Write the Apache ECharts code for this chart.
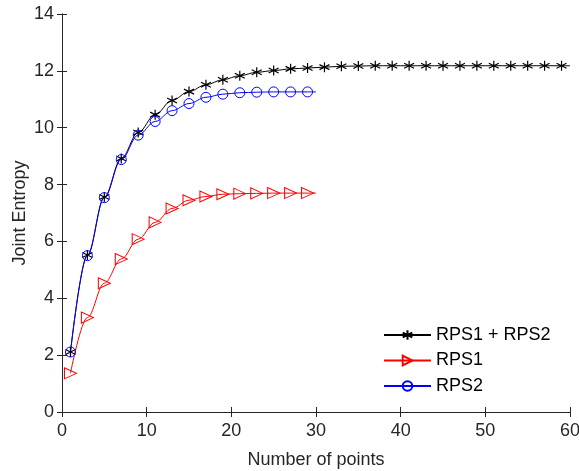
<!DOCTYPE html>
<html>
<head>
<meta charset="utf-8">
<script src="https://cdn.jsdelivr.net/npm/echarts@6/dist/echarts.min.js"></script>
<style>html,body{margin:0;padding:0;background:#fff;}#c{width:579px;height:471px;}</style>
</head>
<body>
<div id="c"></div>
<script>
// x positions of plotted points (markers at odd points; last point is line end without marker)
const xLong = [1,3,5,7,9,11,13,15,17,19,21,23,25,27,29,31,33,35,37,39,41,43,45,47,49,51,53,55,57,59,60];
const xShort = [1,3,5,7,9,11,13,15,17,19,21,23,25,27,29,30];
const rpsBoth = [2.11,5.52,7.56,8.92,9.83,10.46,10.96,11.27,11.51,11.69,11.83,11.95,12.01,12.07,12.10,12.13,12.16,12.17,12.18,12.18,12.18,12.18,12.18,12.18,12.18,12.18,12.18,12.18,12.18,12.18,12.18];
const rps1 = [1.36,3.32,4.53,5.38,6.08,6.67,7.16,7.45,7.58,7.66,7.68,7.69,7.70,7.70,7.70,7.70];
const rps2 = [2.11,5.50,7.54,8.88,9.74,10.22,10.60,10.85,11.07,11.18,11.23,11.25,11.26,11.26,11.26,11.26];
const names = ['RPS1 + RPS2','RPS1','RPS2'];
const xTicks = [0,10,20,30,40,50,60];
const yTicks = [0,2,4,6,8,10,12,14];

function pts(xs, ys){
  return xs.map((x,i)=> i===xs.length-1 ? {value:[x,ys[i]], symbol:'none'} : [x,ys[i]]);
}
const star = 'path://M0,-10L0,10M-8.66,-5L8.66,5M-8.66,5L8.66,-5';
const txt = '#262626';
const font = 'Liberation Sans, Arial, Helvetica, sans-serif';
const chart = echarts.init(document.getElementById('c'));
const axisCommon = {
  axisLine:{show:true, lineStyle:{color:txt, width:1}},
  axisTick:{show:true, inside:true, length:5, lineStyle:{color:txt}},
  splitLine:{show:false}
};
chart.setOption({
  animation:false,
  textStyle:{fontFamily:font},
  grid:{left:62, right:9, top:14, bottom:59, outerBoundsMode:'none', containLabel:false},
  xAxis:[
    Object.assign({type:'value', min:xTicks[0], max:xTicks[xTicks.length-1], interval:10, position:'bottom',
      name:'Number of points', nameLocation:'middle', nameGap:39, nameMoveOverlap:false,
      nameTextStyle:{fontSize:18, color:txt, fontFamily:font},
      axisLabel:{fontSize:18, color:txt, margin:10, fontFamily:font}}, axisCommon),
    Object.assign({type:'value', min:xTicks[0], max:xTicks[xTicks.length-1], interval:10, position:'top',
      axisLabel:{show:false}}, axisCommon)
  ],
  yAxis:[
    Object.assign({type:'value', min:yTicks[0], max:yTicks[yTicks.length-1], interval:2, position:'left',
      name:'Joint Entropy', nameLocation:'middle', nameGap:33, nameMoveOverlap:false,
      nameTextStyle:{fontSize:18, color:txt, fontFamily:font},
      axisLabel:{fontSize:18, color:txt, margin:8, fontFamily:font}}, axisCommon),
    Object.assign({type:'value', min:yTicks[0], max:yTicks[yTicks.length-1], interval:2, position:'right',
      axisLabel:{show:false}}, axisCommon)
  ],
  legend:{
    orient:'vertical', left:383, top:326, padding:0, itemWidth:47, itemHeight:12, itemGap:7.5,
    textStyle:{fontSize:18, lineHeight:18, color:'#000', fontFamily:font},
    data:names
  },
  series:[
    {name:names[0], type:'line', data:pts(xLong, rpsBoth), smooth:0.35, smoothMonotone:'x',
      symbol:star, symbolSize:10, lineStyle:{color:'#000', width:1},
      itemStyle:{color:'#000', borderColor:'#000', borderWidth:1.2}},
    {name:names[1], type:'line', data:pts(xShort, rps1), smooth:0.35, smoothMonotone:'x',
      symbol:'triangle', symbolRotate:-90, symbolSize:[11,12], lineStyle:{color:'#ff0000', width:1},
      itemStyle:{color:'rgba(255,255,255,0)', borderColor:'#ff0000', borderWidth:1}},
    {name:names[2], type:'line', data:pts(xShort, rps2), smooth:0.35, smoothMonotone:'x',
      symbol:'circle', symbolSize:10, lineStyle:{color:'#0000ff', width:1},
      itemStyle:{color:'rgba(255,255,255,0)', borderColor:'#0000ff', borderWidth:1}}
  ]
});
</script>
</body>
</html>
